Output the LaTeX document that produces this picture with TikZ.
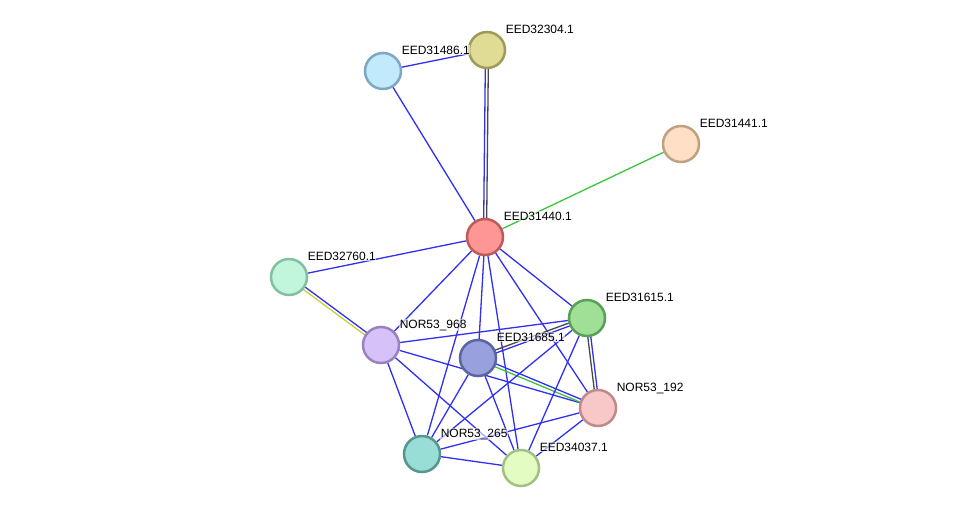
\documentclass[tikz,border=0pt]{standalone}
\usepackage{fontspec}
\setmainfont{Liberation Sans}
\usetikzlibrary{calc,backgrounds}
\definecolor{linkc}{HTML}{3030F2}
\definecolor{greenc}{HTML}{3CC43C}
\definecolor{darkc}{HTML}{484848}
\definecolor{limec}{HTML}{C4D23A}
\definecolor{skyf}{HTML}{C2EAFD}\definecolor{skyd}{HTML}{7FA6C2}
\definecolor{olivef}{HTML}{E0DC96}\definecolor{olived}{HTML}{9E9A58}
\definecolor{peachf}{HTML}{FFDFC5}\definecolor{peachd}{HTML}{C0A082}
\definecolor{redf}{HTML}{FF9696}\definecolor{redd}{HTML}{C05A5A}
\definecolor{mintf}{HTML}{C2F6DC}\definecolor{mintd}{HTML}{82C0A0}
\definecolor{lilacf}{HTML}{D6C2F8}\definecolor{lilacd}{HTML}{9A82C2}
\definecolor{leaff}{HTML}{A0E096}\definecolor{leafd}{HTML}{5A9E58}
\definecolor{navyf}{HTML}{98A0DE}\definecolor{navyd}{HTML}{5A64A0}
\definecolor{rosef}{HTML}{F8C8C8}\definecolor{rosed}{HTML}{C08A8A}
\definecolor{tealf}{HTML}{98DED6}\definecolor{teald}{HTML}{56968E}
\definecolor{limef}{HTML}{E2FCC2}\definecolor{limed}{HTML}{A2C082}
\tikzset{
  prot/.style={circle, minimum size=36pt, inner sep=0pt, line width=2.5pt},
  link/.style={draw=linkc, line width=1.3pt},
  tag/.style={anchor=base west, font=\fontsize{12}{14}\selectfont, fill=white, fill opacity=0.6, text opacity=1, inner sep=0.6pt},
}
\newcommand{\twolink}[4]{%
  \draw[link, draw=#3] ($(#1.center)!1.5pt!90:(#2.center)$) -- ($(#2.center)!1.5pt!-90:(#1.center)$);
  \draw[link, draw=#4] ($(#1.center)!1.5pt!-90:(#2.center)$) -- ($(#2.center)!1.5pt!90:(#1.center)$);}

\begin{document}
\begin{tikzpicture}[x=1pt, y=-1pt]
\useasboundingbox (0,0) rectangle (975,514);
% proteins
\node[prot, draw=skyd, fill=skyf] (e486) at (383,71) {};
\node[prot, draw=olived, fill=olivef] (e304) at (487,50) {};
\node[prot, draw=peachd, fill=peachf] (e441) at (681,144) {};
\node[prot, draw=redd, fill=redf] (e440) at (485,237) {};
\node[prot, draw=mintd, fill=mintf] (e760) at (289,277) {};
\node[prot, draw=lilacd, fill=lilacf] (n968) at (381,345) {};
\node[prot, draw=leafd, fill=leaff] (e615) at (587,318) {};
\node[prot, draw=navyd, fill=navyf] (e685) at (478,358) {};
\node[prot, draw=rosed, fill=rosef] (n192) at (598,408) {};
\node[prot, draw=teald, fill=tealf] (n265) at (422,454) {};
\node[prot, draw=limed, fill=limef] (e037) at (521,468) {};
% links
\begin{scope}[on background layer]
\draw[link] (e486) -- (e304);
\draw[link] (e486) -- (e440);
\twolink{e304}{e440}{darkc}{linkc}
\draw[link, draw=greenc] (e441) -- (e440);
\draw[link] (e440) -- (e760);
\draw[link] (e440) -- (n968);
\draw[link] (e440) -- (n265);
\draw[link] (e440) -- (e685);
\draw[link] (e440) -- (e037);
\draw[link] (e440) -- (n192);
\draw[link] (e440) -- (e615);
\twolink{e760}{n968}{linkc}{limec}
\draw[link] (n968) -- (e615);
\draw[link] (n968) -- (n192);
\draw[link] (n968) -- (n265);
\draw[link] (n968) -- (e037);
\twolink{e685}{e615}{darkc}{linkc}
\twolink{e685}{n192}{linkc}{greenc}
\draw[link] (e685) -- (n265);
\draw[link] (e685) -- (e037);
\twolink{e615}{n192}{linkc}{darkc}
\draw[link] (e615) -- (n265);
\draw[link] (e615) -- (e037);
\draw[link] (n192) -- (n265);
\draw[link] (n192) -- (e037);
\draw[link] (n265) -- (e037);
\end{scope}
% names
\node[tag] (e486t) at ($(e486)+(18,-17)$) {EED31486.1};
\node[tag] (e304t) at ($(e304)+(18,-17)$) {EED32304.1};
\node[tag] (e441t) at ($(e441)+(18,-17)$) {EED31441.1};
\node[tag] (e440t) at ($(e440)+(18,-17)$) {EED31440.1};
\node[tag] (e760t) at ($(e760)+(18,-17)$) {EED32760.1};
\node[tag] (n968t) at ($(n968)+(18,-17)$) {NOR53\_968};
\node[tag] (e615t) at ($(e615)+(18,-17)$) {EED31615.1};
\node[tag] (e685t) at ($(e685)+(18,-17)$) {EED31685.1};
\node[tag] (n192t) at ($(n192)+(18,-17)$) {NOR53\_192};
\node[tag] (n265t) at ($(n265)+(18,-17)$) {NOR53\_265};
\node[tag] (e037t) at ($(e037)+(18,-17)$) {EED34037.1};
\end{tikzpicture}
\end{document}
